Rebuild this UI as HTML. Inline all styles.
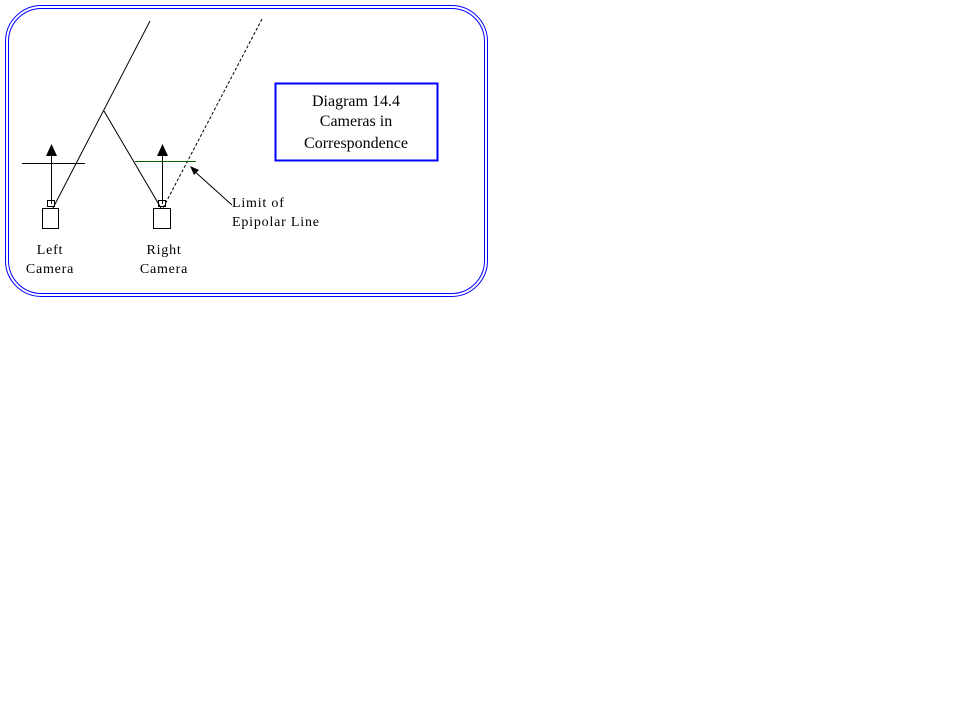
<!DOCTYPE html>
<html><head><style>
html,body{margin:0;padding:0;background:#fff;}
svg text{font-family:"Liberation Serif",serif;font-size:14px;fill:#000;}
.s{letter-spacing:0.8px;}
</style></head><body>
<svg width="959" height="719" xmlns="http://www.w3.org/2000/svg">
<rect x="5.5" y="5.5" width="482" height="291" rx="36" fill="none" stroke="#00f" stroke-width="1"/>
<rect x="8.5" y="8.5" width="476" height="285" rx="33" fill="none" stroke="#00f" stroke-width="1"/>
<rect x="275.5" y="83.5" width="162" height="77" fill="none" stroke="#00f" stroke-width="2"/>
<text x="356" y="106" text-anchor="middle" style="font-size:16px">Diagram 14.4</text>
<text x="356" y="126" text-anchor="middle" style="font-size:16px">Cameras in</text>
<text x="356" y="148" text-anchor="middle" style="font-size:16px">Correspondence</text>
<g stroke="#000" stroke-width="1" fill="none">
<line x1="150" y1="21" x2="53" y2="208"/>
<line x1="104" y1="111" x2="161" y2="208"/>
<line x1="262" y1="19" x2="163" y2="208" stroke-dasharray="3,2"/>
<line x1="22" y1="163.5" x2="85" y2="163.5"/>
<line x1="51.5" y1="155" x2="51.5" y2="204"/>
<line x1="162.5" y1="155" x2="162.5" y2="204"/>
<rect x="47.5" y="200.5" width="7" height="6"/>
<rect x="158.5" y="200.5" width="7" height="6"/>
<rect x="42.5" y="208.5" width="16" height="20"/>
<rect x="153.5" y="208.5" width="17" height="20"/>
<line x1="232" y1="205" x2="193" y2="170"/>
</g>
<line x1="135" y1="161.5" x2="196" y2="161.5" stroke="#006000" stroke-width="1"/>
<polygon points="51.5,144 46,156 57,156" fill="#000"/>
<polygon points="162.5,144 157,156 168,156" fill="#000"/>
<polygon points="190,166 199,170 194,175" fill="#000"/>
<text class="s" x="232" y="207">Limit of</text>
<text class="s" x="232" y="226">Epipolar Line</text>
<text class="s" x="50" y="254" text-anchor="middle">Left</text>
<text class="s" x="50" y="273" text-anchor="middle">Camera</text>
<text class="s" x="164" y="254" text-anchor="middle">Right</text>
<text class="s" x="164" y="273" text-anchor="middle">Camera</text>
</svg>
</body></html>
